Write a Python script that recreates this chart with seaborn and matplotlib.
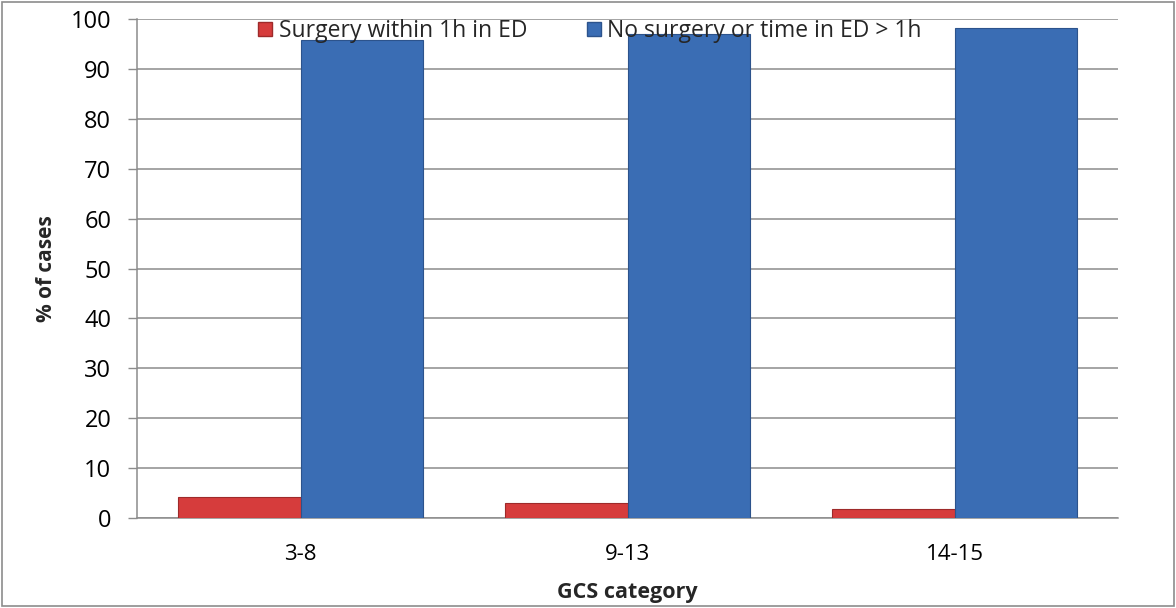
import pandas as pd
import matplotlib
matplotlib.use("Agg")
import matplotlib.pyplot as plt
import seaborn as sns
from matplotlib.patches import Rectangle

categories = ["3-8", "9-13", "14-15"]
series_names = ["Surgery within 1h in ED", "No surgery or time in ED > 1h"]
surgery_1h = [4.3, 3.0, 1.8]
no_surgery = [95.7, 97.0, 98.2]
y_ticks = list(range(0, 101, 10))

df = pd.DataFrame({
    "GCS category": categories * 2,
    "value": surgery_1h + no_surgery,
    "series": [series_names[0]] * 3 + [series_names[1]] * 3,
})

sns.set_theme(style="white")
plt.rcParams["font.family"] = ["Open Sans", "DejaVu Sans"]

fig = plt.figure(figsize=(11.76, 6.08), dpi=100)
ax = fig.add_axes([137 / 1176, 90 / 608, 981 / 1176, 499 / 608])

palette = {series_names[0]: "#D63C3C", series_names[1]: "#3A6DB4"}
edges = {series_names[0]: "#9E2A2A", series_names[1]: "#2C538C"}
sns.barplot(data=df, x="GCS category", y="value", hue="series", hue_order=series_names,
            palette=palette, width=0.75, saturation=1, ax=ax, legend=False)
for cont, name in zip(ax.containers, series_names):
    for bar in cont:
        bar.set_edgecolor(edges[name])
        bar.set_linewidth(0.8)
        bar.set_zorder(3)

ax.set_ylim(0, 100)
ax.set_xlim(-0.5, 2.5)
ax.set_yticks(y_ticks)
ax.yaxis.grid(True, color="#8c8c8c", linewidth=1.1)
ax.set_axisbelow(True)
ax.set_xticks(range(len(categories)))
ax.set_xticklabels(categories)
ax.set_xticks([0.5, 1.5, 2.5], minor=True)
ax.tick_params(axis="x", which="major", length=0, labelsize=16, pad=19, colors="black")
ax.tick_params(axis="x", which="minor", length=6.5, width=1, color="#8c8c8c")
ax.tick_params(axis="y", length=6.5, width=1, color="#8c8c8c", labelsize=17, pad=12,
               direction="out", left=True, labelcolor="black")
for s in ["top", "right"]:
    ax.spines[s].set_visible(False)
for s in ["left", "bottom"]:
    ax.spines[s].set_color("#8c8c8c")
    ax.spines[s].set_linewidth(1.1)

ax.set_xlabel("GCS category", fontsize=15.5, fontweight="bold", labelpad=12)
ax.set_ylabel("% of cases", fontsize=15, fontweight="bold", labelpad=10)

handles = [Rectangle((0, 0), 1, 1, facecolor=palette[n], edgecolor=edges[n]) for n in series_names]
fig.legend(handles, series_names, loc="center", bbox_to_anchor=(590 / 1176, 1 - 31 / 608),
           ncol=2, frameon=False, fontsize=16.5, handlelength=0.6, handleheight=0.6,
           handletextpad=0.3, columnspacing=2.6, borderpad=0)

fig.patches.append(Rectangle((2 / 1176, 2 / 608), 1 - 4 / 1176, 1 - 4 / 608, transform=fig.transFigure,
                             fill=False, edgecolor="#8c8c8c", linewidth=1.2))

fig.savefig("out.png", dpi=100)
